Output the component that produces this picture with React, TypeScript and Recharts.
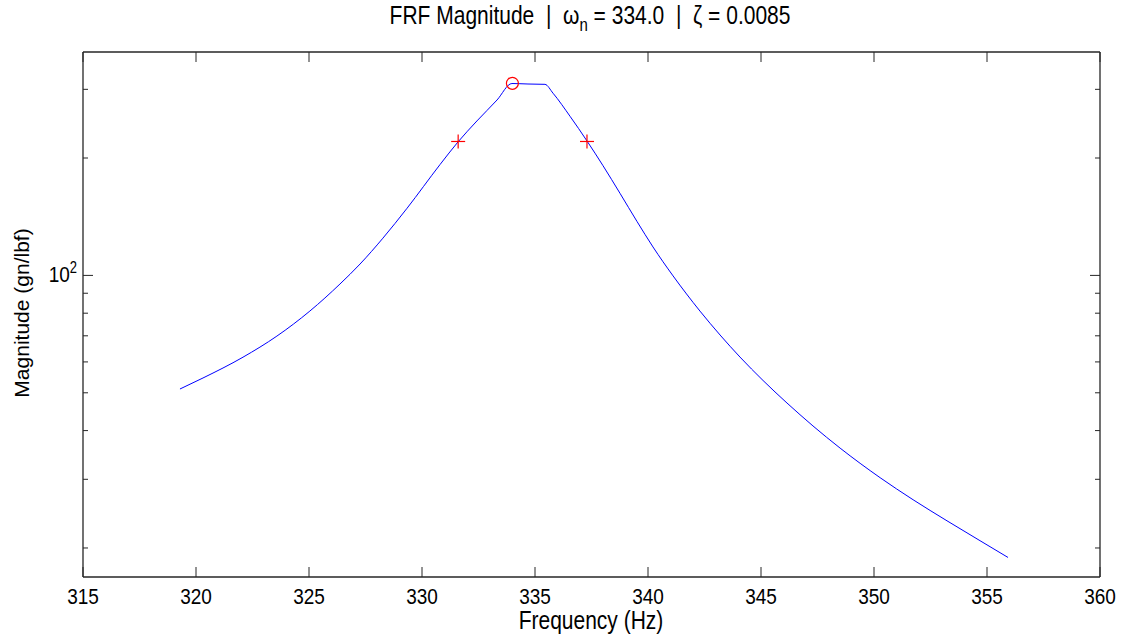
import React from "react";
import { ComposedChart, Line, Scatter, XAxis, YAxis } from "recharts";

// FRF magnitude (Hz, gn/lbf)
const freqs = [
  319.29, 320.31, 322.08, 323.58, 325.04, 326.37, 327.26, 328.27, 329.34,
  330.8, 331.59, 332.43, 333.32, 333.98, 334.69, 335.44, 335.8, 336.55, 337.3,
  338.01, 338.76, 339.51, 340.22, 341.11, 342.3, 343.19, 344.07, 345.09,
  346.15, 347.3, 348.5, 350.27, 351.73, 353.23, 354.69, 355.93,
];
const mags = [
  51.13, 54.57, 61.7, 69.89, 81.03, 95.04, 106.96, 124.58, 148.7, 192.5, 219.8,
  248.9, 281.7, 310.5, 309.6, 309.0, 293.1, 255.9, 221.2, 191.1, 162.4, 137.6,
  118.3, 99.7, 81.0, 70.32, 61.75, 53.77, 47.07, 41.11, 36.07, 30.29, 26.59,
  23.48, 20.88, 18.91,
];

const peakFreqs = [334.0];
const peakMags = [310.9];
const halfPowerFreqs = [331.6, 337.3];
const halfPowerMags = [220.5, 220.5];

const xTicks = [315, 320, 325, 330, 335, 340, 345, 350, 355, 360];
const yTicks = [20, 30, 40, 50, 60, 70, 80, 90, 100, 200, 300];
const yDomain = [16.85, 374];

const curve = freqs.map((f, i) => ({ f, mag: mags[i] }));
const peak = peakFreqs.map((f, i) => ({ f, mag: peakMags[i] }));
const halfPower = halfPowerFreqs.map((f, i) => ({ f, mag: halfPowerMags[i] }));

const FONT = "'Liberation Sans', Arial, Helvetica, sans-serif";
const AX = "#262626";
const SY = 1.2; // labels in the source look vertically stretched

const StretchText = ({ x, y, anchor = "middle", size = 19, children }: any) => (
  <g transform={`translate(${x},${y}) scale(1,${SY})`}>
    <text
      x={0}
      y={0}
      textAnchor={anchor}
      fontFamily={FONT}
      fontSize={size}
      fill="#000"
      xmlSpace="preserve"
      style={{ whiteSpace: "pre" }}
    >
      {children}
    </text>
  </g>
);

const BottomTick = ({ x, y, payload }: any) => (
  <g>
    <line x1={x} x2={x} y1={y} y2={y - 10} stroke={AX} />
    <StretchText x={x} y={y + 27}>{payload.value}</StretchText>
  </g>
);

const TopTick = ({ x, y }: any) => (
  <line x1={x} x2={x} y1={y} y2={y + 10} stroke={AX} />
);

const LeftTick = ({ x, y, payload }: any) => {
  const major = payload.value === 100;
  return (
    <g>
      <line x1={x} x2={x + (major ? 10 : 5)} y1={y} y2={y} stroke={AX} />
      {major && (
        <StretchText x={x - 6} y={y + 7} anchor="end">
          10
          <tspan dy={-8} fontSize={13}>2</tspan>
        </StretchText>
      )}
    </g>
  );
};

const RightTick = ({ x, y, payload }: any) => {
  const major = payload.value === 100;
  return <line x1={x} x2={x - (major ? 10 : 5)} y1={y} y2={y} stroke={AX} />;
};

const Circle = ({ cx, cy }: any) => (
  <circle cx={cx} cy={cy} r={6} fill="none" stroke="#ff0000" strokeWidth={1.2} />
);

const Plus = ({ cx, cy }: any) => (
  <g stroke="#ff0000" strokeWidth={1.2}>
    <line x1={cx - 7} x2={cx + 7} y1={cy} y2={cy} />
    <line x1={cx} x2={cx} y1={cy - 7} y2={cy + 7} />
  </g>
);

export default function App() {
  return (
    <div style={{ position: "absolute", left: 0, top: 0, width: 1122, height: 638, background: "#fff" }}>
      <ComposedChart
        width={1122}
        height={638}
        margin={{ top: 22, right: 2, bottom: 31, left: 23 }}
      >
        <XAxis
          xAxisId="b"
          dataKey="f"
          type="number"
          domain={[315, 360]}
          ticks={xTicks}
          interval={0}
          allowDataOverflow
          height={30}
          tickSize={0}
          tickMargin={0}
          tickLine={false}
          axisLine={{ stroke: AX, strokeWidth: 1.3 }}
          tick={<BottomTick />}
          label={{
            content: () => (
              <StretchText x={591} y={629} size={21}>Frequency (Hz)</StretchText>
            ),
          }}
        />
        <XAxis
          xAxisId="t"
          orientation="top"
          dataKey="f"
          type="number"
          domain={[315, 360]}
          ticks={xTicks}
          interval={0}
          allowDataOverflow
          height={30}
          tickSize={0}
          tickMargin={0}
          tickLine={false}
          axisLine={{ stroke: AX, strokeWidth: 1.3 }}
          tick={<TopTick />}
          label={{
            content: () => (
              <StretchText x={590} y={24} size={21}>
                {"FRF Magnitude  |  \u03c9"}
                <tspan dy={6} fontSize={15}>n</tspan>
                <tspan dy={-6}>{" = 334.0  |  \u03b6 = 0.0085"}</tspan>
              </StretchText>
            ),
          }}
        />
        <YAxis
          yAxisId="l"
          type="number"
          scale="log"
          domain={yDomain}
          ticks={yTicks}
          interval={0}
          allowDataOverflow
          width={60}
          tickSize={0}
          tickMargin={0}
          tickLine={false}
          axisLine={{ stroke: AX, strokeWidth: 1.3 }}
          tick={<LeftTick />}
          label={{
            content: () => (
              <text
                x={0}
                y={0}
                transform="translate(29,313) rotate(-90)"
                textAnchor="middle"
                fontFamily={FONT}
                fontSize={21}
                fill="#000"
              >
                Magnitude (gn/lbf)
              </text>
            ),
          }}
        />
        <YAxis
          yAxisId="r"
          orientation="right"
          type="number"
          scale="log"
          domain={yDomain}
          ticks={yTicks}
          interval={0}
          allowDataOverflow
          width={20}
          tickSize={0}
          tickMargin={0}
          tickLine={false}
          axisLine={{ stroke: AX, strokeWidth: 1.3 }}
          tick={<RightTick />}
        />
        <Line
          data={curve}
          xAxisId="b"
          yAxisId="l"
          dataKey="mag"
          type="monotone"
          stroke="#0000ff"
          strokeWidth={1}
          dot={false}
          isAnimationActive={false}
        />
        <Scatter
          data={peak}
          xAxisId="b"
          yAxisId="l"
          dataKey="mag"
          shape={<Circle />}
          isAnimationActive={false}
        />
        <Scatter
          data={halfPower}
          xAxisId="b"
          yAxisId="l"
          dataKey="mag"
          shape={<Plus />}
          isAnimationActive={false}
        />
      </ComposedChart>
    </div>
  );
}
